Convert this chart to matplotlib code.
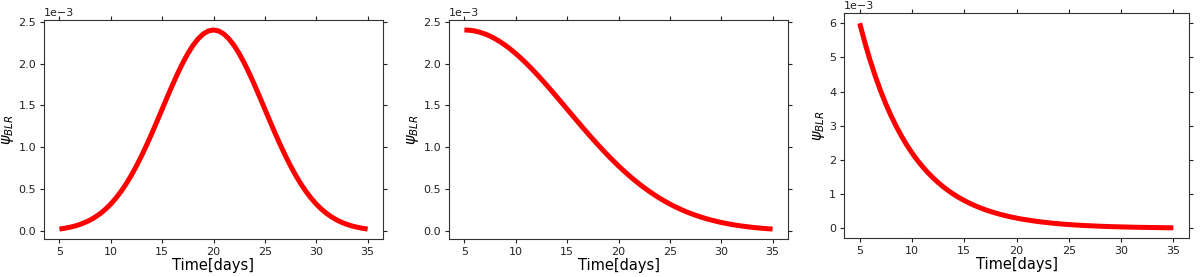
import matplotlib
matplotlib.use("Agg")
import matplotlib.pyplot as plt
import numpy as np

days = np.arange(5, 35.5, 0.5)

# values in units of 1e-3, sampled every half day from 5 to 35
gauss_vals = [0.0267, 0.0358, 0.0476, 0.0627, 0.0817, 0.1054, 0.1347, 0.1704, 0.2134, 0.2647,
              0.3248, 0.3948, 0.4750, 0.5657, 0.6672, 0.7792, 0.9008, 1.0310, 1.1683, 1.3107,
              1.4557, 1.6008, 1.7427, 1.8785, 2.0047, 2.1180, 2.2155, 2.2940, 2.3525, 2.3880,
              2.4000,
              2.3880, 2.3525, 2.2940, 2.2155, 2.1180, 2.0047, 1.8785, 1.7427, 1.6008, 1.4557,
              1.3107, 1.1683, 1.0310, 0.9008, 0.7792, 0.6672, 0.5657, 0.4750, 0.3948, 0.3248,
              0.2647, 0.2134, 0.1704, 0.1347, 0.1054, 0.0817, 0.0627, 0.0476, 0.0358, 0.0267]
halfgauss_vals = [2.4000, 2.3970, 2.3880, 2.3731, 2.3525, 2.3262, 2.2940, 2.2574, 2.2155, 2.1689,
                  2.1180, 2.0631, 2.0047, 1.9429, 1.8785, 1.8116, 1.7427, 1.6723, 1.6008, 1.5284,
                  1.4557, 1.3830, 1.3107, 1.2389, 1.1683, 1.0988, 1.0310, 0.9648, 0.9008, 0.8389,
                  0.7792, 0.7220, 0.6672, 0.6152, 0.5657, 0.5190, 0.4750, 0.4336, 0.3948, 0.3585,
                  0.3248, 0.2935, 0.2647, 0.2379, 0.2134, 0.1910, 0.1704, 0.1517, 0.1347, 0.1194,
                  0.1054, 0.0930, 0.0817, 0.0717, 0.0627, 0.0547, 0.0476, 0.0413, 0.0358, 0.0309,
                  0.0267]
exp_vals = [6.000, 5.429, 4.912, 4.445, 4.022, 3.639, 3.293, 2.980, 2.696, 2.439,
            2.207, 1.997, 1.807, 1.635, 1.480, 1.339, 1.211, 1.096, 0.992, 0.897,
            0.812, 0.735, 0.665, 0.602, 0.544, 0.493, 0.446, 0.403, 0.365, 0.330,
            0.299, 0.270, 0.245, 0.221, 0.200, 0.181, 0.164, 0.148, 0.134, 0.121,
            0.110, 0.099, 0.090, 0.081, 0.074, 0.067, 0.060, 0.055, 0.049, 0.045,
            0.040, 0.037, 0.033, 0.030, 0.027, 0.025, 0.022, 0.020, 0.018, 0.016,
            0.015]

series = [gauss_vals, halfgauss_vals, exp_vals]
positions = [
    [44/1200, (277-239)/277, 339/1200, 219/277],
    [449/1200, (277-239)/277, 339/1200, 219/277],
    [844/1200, (277-238)/277, 345/1200, 225/277],
]

fig = plt.figure(figsize=(12, 2.77), dpi=100)
for vals, pos in zip(series, positions):
    ax = fig.add_axes(pos)
    ax.plot(days, np.array(vals) * 1e-3, color='red', lw=3.6, solid_capstyle='butt')
    ax.set_xticks([5, 10, 15, 20, 25, 30, 35])
    ax.ticklabel_format(axis='y', style='sci', scilimits=(-3, -3))
    ax.tick_params(top=True, right=True, labelsize=8, direction='out',
                   length=3.2, pad=2.5, colors='#222222')
    ax.set_xlabel('Time[days]', fontsize=10.5, labelpad=1)
    ax.set_ylabel(r'$\psi_{BLR}$', fontsize=10.5, labelpad=1.5)
    ax.yaxis.get_offset_text().set_fontsize(8)
    for s in ax.spines.values():
        s.set_linewidth(0.8)
        s.set_color('#333333')

fig.savefig('out.png', dpi=100)
